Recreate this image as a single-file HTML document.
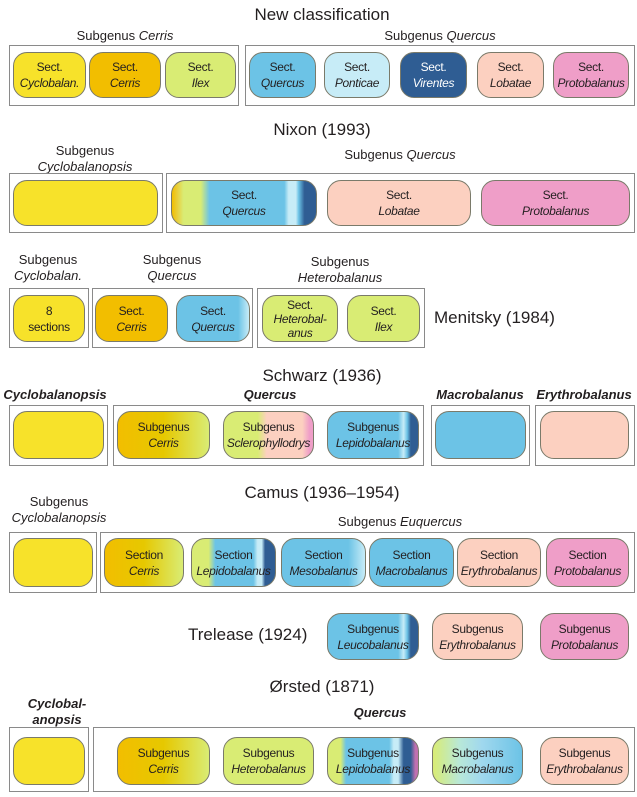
<!DOCTYPE html>
<html><head><meta charset="utf-8"><style>
body{margin:0;width:637px;height:797px;background:#fff;position:relative;font-family:"Liberation Sans",sans-serif;color:#231f20;overflow:hidden}
.b{position:absolute;border:1.5px solid #8a8a8a;box-sizing:border-box}
.p{position:absolute;border:1px solid #7a7a6a;border-radius:14px;box-sizing:border-box;display:flex;flex-direction:column;align-items:center;justify-content:center;font-size:12px;line-height:16px;text-align:center;white-space:nowrap;letter-spacing:-0.3px}
.p i{font-size:12px}
.t{position:absolute;font-size:17px;white-space:nowrap;transform:translateX(-50%);text-align:center}
.l{position:absolute;font-size:13px;white-space:nowrap;transform:translateX(-50%);text-align:center;line-height:16px}
.bi{font-weight:bold;font-style:italic}
.Y{background:#f7e22a}.O{background:#f2be00}.L{background:#d9ec74}.B{background:#6cc3e6}.LB{background:#c7ecf7}.D{background:#2f5d93;color:#fff}.P{background:#fcd0c0}.K{background:#ef9ec8}
.CE{background:linear-gradient(90deg,#f2be00 0%,#e6c800 50%,#d9ec74 100%)}
.LE{background:linear-gradient(90deg,#6cc3e6 0%,#6cc3e6 78%,#c7ecf7 84%,#6cc3e6 88%,#2f5d93 92%,#2f5d93 100%)}
</style></head><body>

<div class="t" style="left:322px;top:5px">New classification</div>
<div class="l" style="left:125px;top:28px">Subgenus <i>Cerris</i></div>
<div class="l" style="left:440px;top:28px">Subgenus <i>Quercus</i></div>
<div class="b" style="left:9px;top:45px;width:230px;height:61px"></div>
<div class="b" style="left:245px;top:45px;width:390px;height:61px"></div>
<div class="p Y" style="left:13px;top:52px;width:73px;height:46px">Sect.<i>Cyclobalan.</i></div>
<div class="p O" style="left:89px;top:52px;width:72px;height:46px">Sect.<i>Cerris</i></div>
<div class="p L" style="left:165px;top:52px;width:71px;height:46px">Sect.<i>Ilex</i></div>
<div class="p B" style="left:249px;top:52px;width:67px;height:46px">Sect.<i>Quercus</i></div>
<div class="p LB" style="left:324px;top:52px;width:66px;height:46px">Sect.<i>Ponticae</i></div>
<div class="p D" style="left:400px;top:52px;width:67px;height:46px">Sect.<i>Virentes</i></div>
<div class="p P" style="left:477px;top:52px;width:67px;height:46px">Sect.<i>Lobatae</i></div>
<div class="p K" style="left:553px;top:52px;width:76px;height:46px">Sect.<i>Protobalanus</i></div>

<div class="t" style="left:322px;top:120px">Nixon (1993)</div>
<div class="l" style="left:85px;top:143px">Subgenus<br><i>Cyclobalanopsis</i></div>
<div class="l" style="left:400px;top:147px">Subgenus <i>Quercus</i></div>
<div class="b" style="left:9px;top:173px;width:154px;height:60px"></div>
<div class="b" style="left:166px;top:173px;width:469px;height:60px"></div>
<div class="p Y" style="left:13px;top:180px;width:145px;height:46px"></div>
<div class="p" style="left:171px;top:180px;width:146px;height:46px;background:linear-gradient(90deg,#f2be00 0%,#e8d040 4%,#d9ec74 8%,#d9ec74 20%,#6cc3e6 26%,#6cc3e6 78%,#c7ecf7 81%,#c7ecf7 86%,#6cc3e6 88%,#2f5d93 92%,#2f5d93 100%)">Sect.<i>Quercus</i></div>
<div class="p P" style="left:327px;top:180px;width:144px;height:46px">Sect.<i>Lobatae</i></div>
<div class="p K" style="left:481px;top:180px;width:149px;height:46px">Sect.<i>Protobalanus</i></div>

<div class="l" style="left:48px;top:252px">Subgenus<br><i>Cyclobalan.</i></div>
<div class="l" style="left:172px;top:252px">Subgenus<br><i>Quercus</i></div>
<div class="l" style="left:340px;top:254px">Subgenus<br><i>Heterobalanus</i></div>
<div class="b" style="left:9px;top:288px;width:80px;height:60px"></div>
<div class="b" style="left:92px;top:288px;width:161px;height:60px"></div>
<div class="b" style="left:257px;top:288px;width:168px;height:60px"></div>
<div class="p Y" style="left:13px;top:295px;width:72px;height:47px">8<br>sections</div>
<div class="p O" style="left:95px;top:295px;width:73px;height:47px">Sect.<i>Cerris</i></div>
<div class="p" style="left:176px;top:295px;width:74px;height:47px;background:linear-gradient(90deg,#6cc3e6 0%,#6cc3e6 85%,#c7ecf7 100%)">Sect.<i>Quercus</i></div>
<div class="p L" style="left:262px;top:295px;width:76px;height:47px;line-height:14px">Sect.<i>Heterobal-</i><i>anus</i></div>
<div class="p L" style="left:347px;top:295px;width:73px;height:47px">Sect.<i>Ilex</i></div>
<div style="position:absolute;left:434px;top:308px;font-size:17px">Menitsky (1984)</div>

<div class="t" style="left:322px;top:366px">Schwarz (1936)</div>
<div class="l bi" style="left:55px;top:387px">Cyclobalanopsis</div>
<div class="l bi" style="left:270px;top:387px">Quercus</div>
<div class="l bi" style="left:480px;top:387px">Macrobalanus</div>
<div class="l bi" style="left:584px;top:387px">Erythrobalanus</div>
<div class="b" style="left:9px;top:405px;width:99px;height:61px"></div>
<div class="b" style="left:113px;top:405px;width:311px;height:61px"></div>
<div class="b" style="left:431px;top:405px;width:99px;height:61px"></div>
<div class="b" style="left:535px;top:405px;width:100px;height:61px"></div>
<div class="p Y" style="left:13px;top:411px;width:91px;height:48px"></div>
<div class="p CE" style="left:117px;top:411px;width:93px;height:48px">Subgenus<i>Cerris</i></div>
<div class="p" style="left:223px;top:411px;width:91px;height:48px;background:linear-gradient(90deg,#d9ec74 0%,#d9ec74 38%,#fcd0c0 48%,#fcd0c0 88%,#ef9ec8 96%)">Subgenus<i>Sclerophyllodrys</i></div>
<div class="p LE" style="left:327px;top:411px;width:92px;height:48px">Subgenus<i>Lepidobalanus</i></div>
<div class="p B" style="left:435px;top:411px;width:91px;height:48px"></div>
<div class="p P" style="left:540px;top:411px;width:89px;height:48px"></div>

<div class="t" style="left:322px;top:483px">Camus (1936–1954)</div>
<div class="l" style="left:59px;top:494px">Subgenus<br><i>Cyclobalanopsis</i></div>
<div class="l" style="left:400px;top:514px">Subgenus <i>Euquercus</i></div>
<div class="b" style="left:9px;top:532px;width:88px;height:61px"></div>
<div class="b" style="left:100px;top:532px;width:535px;height:61px"></div>
<div class="p Y" style="left:13px;top:538px;width:80px;height:49px"></div>
<div class="p CE" style="left:104px;top:538px;width:80px;height:49px">Section<i>Cerris</i></div>
<div class="p" style="left:191px;top:538px;width:85px;height:49px;background:linear-gradient(90deg,#d9ec74 0%,#d9ec74 20%,#6cc3e6 28%,#6cc3e6 74%,#c7ecf7 79%,#c7ecf7 84%,#2f5d93 88%,#2f5d93 100%)">Section<i>Lepidobalanus</i></div>
<div class="p" style="left:281px;top:538px;width:85px;height:49px;background:linear-gradient(90deg,#6cc3e6 0%,#6cc3e6 80%,#c7ecf7 100%)">Section<i>Mesobalanus</i></div>
<div class="p B" style="left:369px;top:538px;width:85px;height:49px">Section<i>Macrobalanus</i></div>
<div class="p P" style="left:457px;top:538px;width:84px;height:49px">Section<i>Erythrobalanus</i></div>
<div class="p K" style="left:546px;top:538px;width:83px;height:49px">Section<i>Protobalanus</i></div>

<div style="position:absolute;left:188px;top:625px;font-size:17px">Trelease (1924)</div>
<div class="p LE" style="left:327px;top:613px;width:92px;height:47px">Subgenus<i>Leucobalanus</i></div>
<div class="p P" style="left:432px;top:613px;width:91px;height:47px">Subgenus<i>Erythrobalanus</i></div>
<div class="p K" style="left:540px;top:613px;width:89px;height:47px">Subgenus<i>Protobalanus</i></div>

<div class="t" style="left:322px;top:677px">Ørsted (1871)</div>
<div class="l bi" style="left:57px;top:696px">Cyclobal-<br>anopsis</div>
<div class="l bi" style="left:380px;top:705px">Quercus</div>
<div class="b" style="left:9px;top:727px;width:80px;height:65px"></div>
<div class="b" style="left:93px;top:727px;width:542px;height:65px"></div>
<div class="p Y" style="left:13px;top:737px;width:72px;height:48px"></div>
<div class="p CE" style="left:117px;top:737px;width:93px;height:48px">Subgenus<i>Cerris</i></div>
<div class="p L" style="left:223px;top:737px;width:91px;height:48px">Subgenus<i>Heterobalanus</i></div>
<div class="p" style="left:327px;top:737px;width:92px;height:48px;background:linear-gradient(90deg,#d9ec74 0%,#d9ec74 14%,#6cc3e6 20%,#6cc3e6 68%,#c7ecf7 73%,#c7ecf7 78%,#2f5d93 84%,#2f5d93 92%,#c070b0 97%)">Subgenus<i>Lepidobalanus</i></div>
<div class="p" style="left:432px;top:737px;width:91px;height:48px;background:linear-gradient(90deg,#d9ec74 0%,#b8e8d8 30%,#a0d8ee 55%,#6cc3e6 100%)">Subgenus<i>Macrobalanus</i></div>
<div class="p P" style="left:540px;top:737px;width:89px;height:48px">Subgenus<i>Erythrobalanus</i></div>

</body></html>
